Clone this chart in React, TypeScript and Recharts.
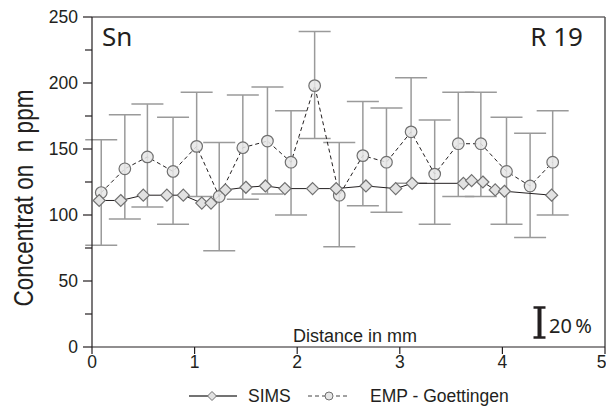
import { ComposedChart, Line, XAxis, YAxis, ErrorBar, ReferenceLine } from 'recharts'

// EMP - Goettingen (circles, dashed) with error bar limits
const empX = [0.09, 0.32, 0.54, 0.79, 1.02, 1.24, 1.47, 1.71, 1.94, 2.17, 2.41, 2.64, 2.87, 3.11, 3.34, 3.57, 3.79, 4.04, 4.27, 4.49]
const empY = [117, 135, 144, 133, 152, 114, 151, 156, 140, 198, 115, 145, 140, 163, 131, 154, 154, 133, 122, 140]
const empLow = [77, 97, 106, 93, 114, 73, 112, 116, 100, 158, 76, 107, 102, 124, 93, 114, 114, 93, 83, 100]
const empHigh = [157, 176, 184, 174, 193, 155, 191, 197, 179, 239, 155, 186, 181, 204, 172, 193, 193, 174, 162, 179]

// SIMS (diamonds, solid)
const simsX = [0.07, 0.28, 0.5, 0.73, 0.89, 1.07, 1.16, 1.3, 1.5, 1.69, 1.88, 2.15, 2.38, 2.67, 2.96, 3.12, 3.62, 3.7, 3.81, 3.93, 4.02, 4.48]
const simsY = [111, 111, 115, 115, 115, 109, 109, 119, 121, 122, 120, 120, 120, 122, 120, 124, 124, 126, 125, 119, 118, 115]

const xTicks = [0, 1, 2, 3, 4, 5]
const yTicks = [0, 25, 50, 75, 100, 125, 150, 175, 200, 225, 250]

const empData = empX.map((x, i) => ({ x, y: empY[i], err: [empY[i] - empLow[i], empHigh[i] - empY[i]] }))
const simsData = simsX.map((x, i) => ({ x, y: simsY[i] }))

const SANS = '"Liberation Sans", Arial, sans-serif'
const MYRIAD = '"Noto Sans", sans-serif'
const INK = '#231f20'

const Diamond = (p: any) => {
  const { cx, cy, index } = p
  const s = 6
  return (
    <path key={`d${index}`} d={`M${cx},${cy - s}L${cx + s},${cy}L${cx},${cy + s}L${cx - s},${cy}Z`}
      fill="#e2e2e2" stroke="#707070" strokeWidth={1.2} />
  )
}

const Circle = (p: any) => {
  const { cx, cy, index } = p
  return <circle key={`c${index}`} cx={cx} cy={cy} r={5.8} fill="#e6e6e6" fillOpacity={0.85} stroke="#707070" strokeWidth={1.2} />
}

const YTick = (props: any) => {
  const { x, y, payload } = props
  const major = payload.value % 50 === 0
  return (
    <g>
      <line x1={x - (major ? 9 : 7)} x2={x} y1={y} y2={y} stroke={INK} strokeWidth={1.2} />
      {major && (
        <text x={x - 14} y={y} dy="0.36em" textAnchor="end" fontSize={17.5} fontFamily={SANS} fill={INK}>
          {payload.value}
        </text>
      )}
    </g>
  )
}

export default function App() {
  return (
    <div style={{ position: 'absolute', left: 0, top: 0, width: 606, height: 408, background: '#fff' }}>
      <ComposedChart width={606} height={408} margin={{ top: 17, right: 1, bottom: 36, left: 0 }}>
        <XAxis
          type="number"
          dataKey="x"
          domain={[0, 5]}
          ticks={xTicks}
          allowDataOverflow
          height={25}
          tickSize={7}
          tickMargin={2}
          stroke={INK}
          strokeWidth={1.2}
          tick={{ fontSize: 17.5, fontFamily: SANS, fill: INK }}
        />
        <YAxis
          type="number"
          domain={[0, 250]}
          ticks={yTicks}
          allowDataOverflow
          width={92}
          tickLine={false}
          tickSize={0}
          tickMargin={0}
          stroke={INK}
          strokeWidth={1.2}
          interval={0}
          tick={<YTick />}
        />
        <ReferenceLine y={250} stroke={INK} strokeWidth={1.2} />
        <ReferenceLine x={5} stroke="#555" strokeWidth={1.5} />
        <Line
          data={empData}
          dataKey="y"
          type="linear"
          stroke={INK}
          strokeWidth={1}
          strokeDasharray="4 3"
          dot={Circle}
          isAnimationActive={false}
        >
          <ErrorBar dataKey="err" direction="y" width={16} stroke="#9a9a9a" strokeWidth={1.5} />
        </Line>
        <Line
          data={simsData}
          dataKey="y"
          type="linear"
          stroke={INK}
          strokeWidth={1}
          dot={Diamond}
          isAnimationActive={false}
        />
      </ComposedChart>

      <svg width={606} height={408} style={{ position: 'absolute', left: 0, top: 0, pointerEvents: 'none' }}>
        <text x={102} y={46} fontSize={26} fontFamily={MYRIAD} fill={INK}>Sn</text>
        <text x={583} y={46} fontSize={26} fontFamily={MYRIAD} fill={INK} textAnchor="end">R 19</text>
        <text x={417} y={342} fontSize={18} fontFamily={SANS} fill={INK} textAnchor="end">Distance in mm</text>

        {/* 20% scale bar */}
        <line x1={539.5} x2={539.5} y1={307} y2={338} stroke={INK} strokeWidth={4} />
        <line x1={533.5} x2={545.5} y1={307.5} y2={307.5} stroke={INK} strokeWidth={2.5} />
        <line x1={533.5} x2={545.5} y1={337.5} y2={337.5} stroke={INK} strokeWidth={2.5} />
        <text x={549} y={333} fontSize={20} fontFamily={MYRIAD} fill={INK} style={{ whiteSpace: 'pre' }}>{'20\u2009%'}</text>

        <text transform="translate(33,198) rotate(-90)" textAnchor="middle" fontSize={28} fontFamily={SANS} fill={INK}
          textLength={217} lengthAdjust="spacingAndGlyphs" style={{ whiteSpace: 'pre' }}>
          {'Concentrat on  n ppm'}
        </text>

        {/* legend */}
        <line x1={189} x2={237} y1={396} y2={396} stroke="#444" strokeWidth={1.3} />
        <path d="M212,391.5L216.5,396L212,400.5L207.5,396Z" fill="#e2e2e2" stroke="#707070" strokeWidth={1} />
        <text x={248} y={402} fontSize={17.5} fontFamily={SANS} fill={INK}>SIMS</text>
        <line x1={308} x2={350} y1={396} y2={396} stroke="#444" strokeWidth={1} strokeDasharray="4 3" />
        <circle cx={329} cy={396} r={4} fill="#e6e6e6" stroke="#707070" strokeWidth={1} />
        <text x={370} y={402} fontSize={17.5} fontFamily={SANS} fill={INK}>EMP - Goettingen</text>
      </svg>
    </div>
  )
}
